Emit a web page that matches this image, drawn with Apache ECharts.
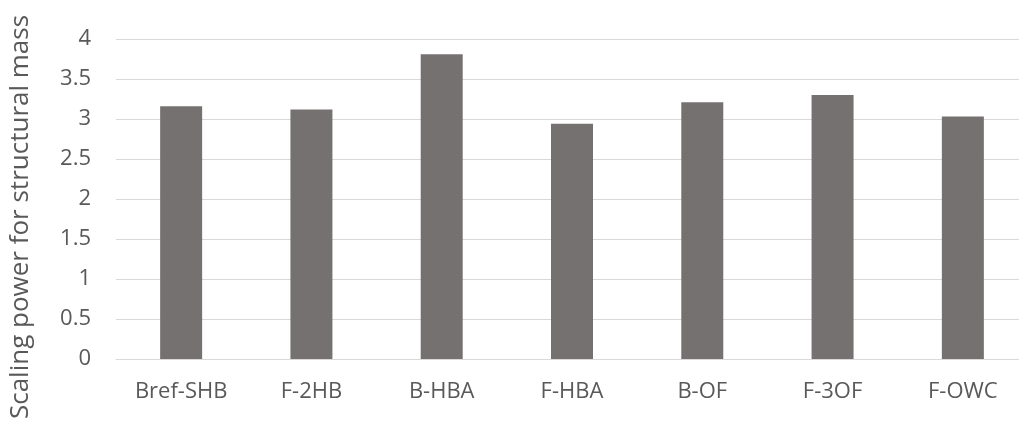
<!DOCTYPE html>
<html>
<head>
<meta charset="utf-8">
<script src="https://cdn.jsdelivr.net/npm/echarts@6/dist/echarts.min.js"></script>
<style>
  html, body { margin: 0; padding: 0; background: #ffffff; }
  #chart { width: 1019px; height: 425px; }
</style>
</head>
<body>
<div id="chart"></div>
<script>
// Scaling power for structural mass, per configuration
const categories = ['Bref-SHB', 'F-2HB', 'B-HBA', 'F-HBA', 'B-OF', 'F-3OF', 'F-OWC'];
const scalingPower = [3.16, 3.12, 3.81, 2.94, 3.21, 3.30, 3.03];
const yTicks = { min: 0, max: 4, interval: 0.5 };
const yAxisTitle = 'Scaling power for structural mass';

const textColor = '#595959';
const gridColor = '#d9d9d9';
const font = '"Open Sans", Lato, sans-serif';

const chart = echarts.init(document.getElementById('chart'), null, { renderer: 'canvas' });
chart.setOption({
  animation: false,
  grid: {
    left: 116, top: 39, bottom: 66, width: 912,
    containLabel: false,
    outerBoundsMode: 'none'
  },
  xAxis: {
    type: 'category',
    data: categories,
    axisLine: { show: true, lineStyle: { color: gridColor, width: 1 } },
    axisTick: { show: false },
    axisLabel: { color: textColor, fontFamily: font, fontSize: 22, margin: 22 }
  },
  yAxis: {
    type: 'value',
    min: yTicks.min,
    max: yTicks.max,
    interval: yTicks.interval,
    name: yAxisTitle,
    nameLocation: 'middle',
    nameGap: 82,
    // title sits a little below the axis midpoint
    nameTextStyle: { color: textColor, fontFamily: font, fontSize: 26, padding: [0, 36, 0, 0] },
    axisLine: { show: false },
    axisTick: { show: false },
    splitLine: { lineStyle: { color: gridColor, width: 1 } },
    axisLabel: { color: textColor, fontFamily: font, fontSize: 22, margin: 25 }
  },
  series: [{
    type: 'bar',
    data: scalingPower,
    barWidth: 42,
    itemStyle: { color: '#767171' }
  }]
});
</script>
</body>
</html>
